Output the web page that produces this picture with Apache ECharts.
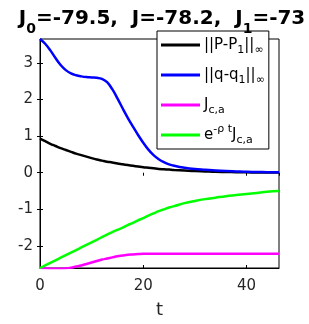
<!DOCTYPE html>
<html><head><meta charset="utf-8">
<script src="https://cdn.jsdelivr.net/npm/echarts@6/dist/echarts.min.js"></script>
<style>html,body{margin:0;padding:0;background:#fff}#c{width:309px;height:324px}</style>
</head><body><div id="c"></div>
<script>
var tVals = [0,1,2,3,4,5,6,7,8,9,10,11,12,13,14,15,16,17,18,19,20,21,22,23,24,25,26,28,30,32,34,36,38,40,42,44,46.3];
var pNorm = [0.93,0.86,0.79,0.73,0.67,0.62,0.57,0.52,0.48,0.44,0.40,0.36,0.33,0.30,0.28,0.25,0.23,0.21,0.19,0.17,0.15,0.135,0.12,0.105,0.095,0.085,0.075,0.06,0.045,0.035,0.025,0.02,0.015,0.01,0.008,0.006,0.005];
var qNorm = [3.65,3.52,3.34,3.13,2.94,2.80,2.71,2.66,2.63,2.61,2.60,2.59,2.56,2.47,2.28,2.03,1.76,1.50,1.26,1.03,0.82,0.63,0.48,0.37,0.29,0.23,0.19,0.135,0.10,0.08,0.06,0.045,0.035,0.025,0.02,0.015,0.01];
var jca = [-2.60,-2.61,-2.62,-2.62,-2.62,-2.61,-2.59,-2.56,-2.53,-2.49,-2.45,-2.41,-2.37,-2.34,-2.31,-2.28,-2.26,-2.24,-2.23,-2.22,-2.21,-2.21,-2.21,-2.21,-2.21,-2.21,-2.21,-2.21,-2.21,-2.21,-2.21,-2.21,-2.21,-2.21,-2.21,-2.21,-2.21];
var jcaDisc = [-2.60,-2.53,-2.46,-2.39,-2.32,-2.25,-2.18,-2.11,-2.04,-1.97,-1.90,-1.83,-1.76,-1.69,-1.62,-1.56,-1.50,-1.43,-1.37,-1.30,-1.24,-1.17,-1.11,-1.05,-1.00,-0.95,-0.91,-0.83,-0.77,-0.72,-0.68,-0.64,-0.61,-0.58,-0.55,-0.52,-0.50];
var seriesNames = ['P','q','J','E'];
var seriesLabels = {
  P: '||P-P{sub|1}||{sub|\u221e}',
  q: '||q-q{sub|1}||{sub|\u221e}',
  J: 'J{sub|c,a}',
  E: 'e{sup|-\u03c1 t}J{sub|c,a}'
};
var seriesColors = ['#000000','#0000ff','#ff00ff','#00ff00'];
var seriesData = [pNorm,qNorm,jca,jcaDisc];
var xTicks = [0,20,40];
var yTicks = [-2,-1,0,1,2,3];

function pairs(arr){ return tVals.map(function(t,i){return [t,arr[i]];}); }
var FONT = 'DejaVu Sans';
var chart = echarts.init(document.getElementById('c'));
var series = seriesNames.map(function(n,i){
  return {name:n,type:'line',data:pairs(seriesData[i]),showSymbol:false,smooth:0.4,
    lineStyle:{color:seriesColors[i],width:2.5},itemStyle:{color:seriesColors[i]},z:i===1?5:3};
});
chart.setOption({
  animation:false,
  title:{text:'J{sub|0}=-79.5,  J=-78.2,  J{sub|1}=-73',left:157,textAlign:'center',top:-3,
    textStyle:{fontFamily:FONT,fontWeight:'bold',fontSize:20,color:'#000',lineHeight:34,
      rich:{sub:{fontFamily:FONT,fontWeight:'bold',fontSize:14,lineHeight:16,verticalAlign:'bottom',color:'#000'}}}},
  grid:{left:40,right:30,top:39,bottom:56,show:true,borderColor:'#000',borderWidth:1,backgroundColor:'transparent'},
  legend:{orient:'vertical',left:157,top:31,backgroundColor:'#fff',borderColor:'#000',borderWidth:1,
    padding:[3,4,3,4],itemGap:8,itemWidth:39,itemHeight:3,icon:'rect',
    formatter:function(n){return seriesLabels[n];},
    textStyle:{fontFamily:FONT,fontSize:15,color:'#000',lineHeight:22,padding:[0,0,0,-1],
      rich:{sub:{fontFamily:FONT,fontSize:11,lineHeight:12,verticalAlign:'bottom',color:'#000'},
            sup:{fontFamily:FONT,fontSize:11,lineHeight:12,verticalAlign:'top',color:'#000'}}}},
  xAxis:[{type:'value',min:0,max:46.3,interval:20,name:'t',nameLocation:'middle',nameGap:33,
    nameTextStyle:{fontFamily:FONT,fontSize:18,color:'#262626'},
    axisLine:{show:true,onZero:false,lineStyle:{color:'#000'}},
    axisTick:{inside:true,length:3,lineStyle:{color:'#000'}},
    axisLabel:{fontFamily:FONT,fontSize:15,color:'#262626',margin:11,showMaxLabel:false,
      formatter:function(v){return xTicks.indexOf(v)>=0?String(v):'';}},
    splitLine:{show:false}},
   {type:'value',position:'top',min:0,max:46.3,interval:20,axisLine:{show:false},
    axisTick:{inside:true,length:3,lineStyle:{color:'#000'}},axisLabel:{show:false},splitLine:{show:false}}],
  yAxis:[{type:'value',min:-2.6,max:3.65,
    axisLine:{show:true,onZero:false,lineStyle:{color:'#000'}},
    axisTick:{inside:true,length:3,lineStyle:{color:'#000'},customValues:yTicks},
    axisLabel:{fontFamily:FONT,fontSize:15,color:'#262626',margin:7,customValues:yTicks},
    splitLine:{show:false}},
   {type:'value',position:'right',min:-2.6,max:3.65,axisLine:{show:false},
    axisTick:{inside:true,length:3,lineStyle:{color:'#000'},customValues:yTicks},
    axisLabel:{show:false},splitLine:{show:false}}],
  series:series
});
</script></body></html>
